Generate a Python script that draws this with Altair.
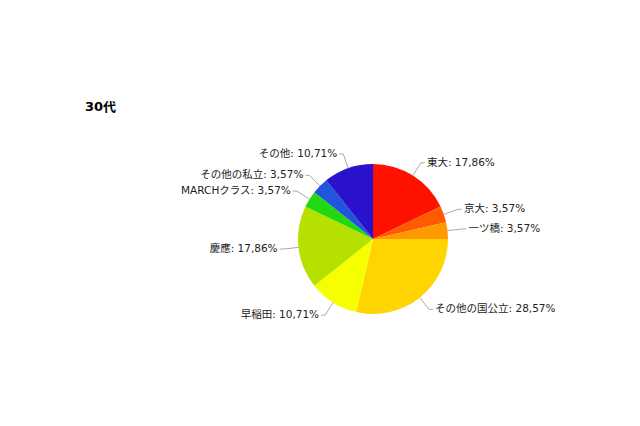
import altair as alt
import pandas as pd

names = ["東大", "京大", "一ツ橋", "その他の国公立", "早稲田", "慶應", "MARCHクラス", "その他の私立", "その他"]
pcts = [17.86, 3.57, 3.57, 28.57, 10.71, 17.86, 3.57, 3.57, 10.71]
colors = ["#ff1100", "#ff5a00", "#ff9900", "#ffd400", "#f5ff00", "#b5e000", "#22d811", "#2255dd", "#2a11cc"]
title_text = "30代"

df = pd.DataFrame({
    "name": names,
    "pct": pcts,
    "idx": list(range(len(names))),
    "label": [f"{n}: " + f"{p:.2f}".replace(".", ",") + "%" for n, p in zip(names, pcts)],
})

CX, CY, R = 365, 231, 75
FONT = "DejaVu Sans, Noto Sans CJK JP, sans-serif"

base = alt.Chart(df).transform_window(
    cum="sum(pct)", sort=[alt.SortField("idx", order="ascending")], frame=[None, 0]
).transform_joinaggregate(
    total="sum(pct)"
).transform_calculate(
    mid="(datum.cum - datum.pct/2)/datum.total*2*PI"
).transform_calculate(
    ex=f"{CX} + {R}*sin(datum.mid)",
    ey=f"{CY} - {R}*cos(datum.mid)",
    kx=f"{CX} + {R+15}*sin(datum.mid)",
    ky=f"{CY} - {R+15}*cos(datum.mid)",
    side="sin(datum.mid) >= 0 ? 1 : -1",
).transform_calculate(
    hx="datum.kx + 4*datum.side",
    tx="datum.kx + 6*datum.side",
)

color_scale = alt.Scale(domain=names, range=colors)

pie = alt.Chart(df).mark_arc(radius=R, strokeWidth=0).encode(
    theta=alt.Theta("pct:Q", stack=True),
    color=alt.Color("name:N", scale=color_scale, legend=None),
    order=alt.Order("idx:Q"),
    x=alt.value(CX),
    y=alt.value(CY),
)

seg1 = base.mark_rule(color="#aaaaaa", strokeWidth=1).encode(
    x=alt.X("ex:Q", scale=None, axis=None),
    y=alt.Y("ey:Q", scale=None, axis=None),
    x2="kx:Q",
    y2="ky:Q",
)
seg2 = base.mark_rule(color="#aaaaaa", strokeWidth=1).encode(
    x=alt.X("kx:Q", scale=None, axis=None),
    y=alt.Y("ky:Q", scale=None, axis=None),
    x2="hx:Q",
    y2="ky:Q",
)

txt_r = base.transform_filter("datum.side > 0").mark_text(
    align="left", baseline="middle", font=FONT, fontSize=10.5, color="#222222"
).encode(
    x=alt.X("tx:Q", scale=None, axis=None),
    y=alt.Y("ky:Q", scale=None, axis=None),
    text="label:N",
)
txt_l = base.transform_filter("datum.side < 0").mark_text(
    align="right", baseline="middle", font=FONT, fontSize=10.5, color="#222222"
).encode(
    x=alt.X("tx:Q", scale=None, axis=None),
    y=alt.Y("ky:Q", scale=None, axis=None),
    text="label:N",
)

title = alt.Chart(pd.DataFrame({"t": [title_text]})).mark_text(
    align="left", baseline="middle", font=FONT, fontSize=13, fontWeight="bold", color="#000000"
).encode(
    x=alt.value(77), y=alt.value(99), text="t:N"
)

chart = alt.layer(pie, seg1, seg2, txt_r, txt_l, title).properties(
    width=624, height=410, padding=0, autosize=alt.AutoSizeParams(type="none")
).configure_view(stroke=None)

chart.save("out.html", embed_options={"renderer": "svg", "actions": False})
